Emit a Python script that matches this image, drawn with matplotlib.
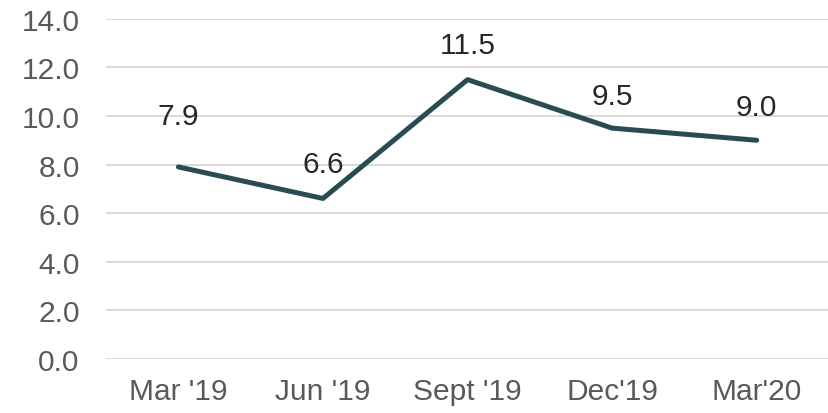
import matplotlib
matplotlib.use('Agg')
import matplotlib.pyplot as plt

# quarterly values
quarters = ["Mar '19", "Jun '19", "Sept '19", "Dec'19", "Mar'20"]
values = [7.9, 6.6, 11.5, 9.5, 9.0]
yticks = [0, 2, 4, 6, 8, 10, 12, 14]

plt.rcParams['font.family'] = ['Liberation Sans', 'DejaVu Sans']

fig = plt.figure(figsize=(8.29, 4.14), dpi=100)
ax = fig.add_axes([0.128, 0.1316, 0.872, 0.8201])

x = list(range(len(quarters)))
ax.plot(x, values, color='#294C53', lw=3.6, solid_capstyle='round', zorder=3)

# data labels, first one sits higher
offsets = [37, 25, 25, 23, 24]
for i, v in enumerate(values):
    ax.annotate(f'{v:.1f}', (i, v), xytext=(0, offsets[i]), textcoords='offset points',
                ha='center', va='center', fontsize=21.5, color='#262626')

ax.set_xlim(-0.5, len(quarters) - 0.5)
ax.set_ylim(0, 14)
ax.set_yticks(yticks)
ax.set_yticklabels([f'{t:.1f}' for t in yticks])
ax.set_xticks(x)
ax.set_xticklabels(quarters)
ax.tick_params(axis='y', length=0, pad=19, labelsize=21.5, labelcolor='#595959')
ax.tick_params(axis='x', length=0, pad=13, labelsize=21.5, labelcolor='#595959')
ax.grid(axis='y', color='#D9D9D9', lw=1.4)
ax.set_axisbelow(True)
for s in ax.spines.values():
    s.set_visible(False)

fig.savefig('out.png', dpi=100)
